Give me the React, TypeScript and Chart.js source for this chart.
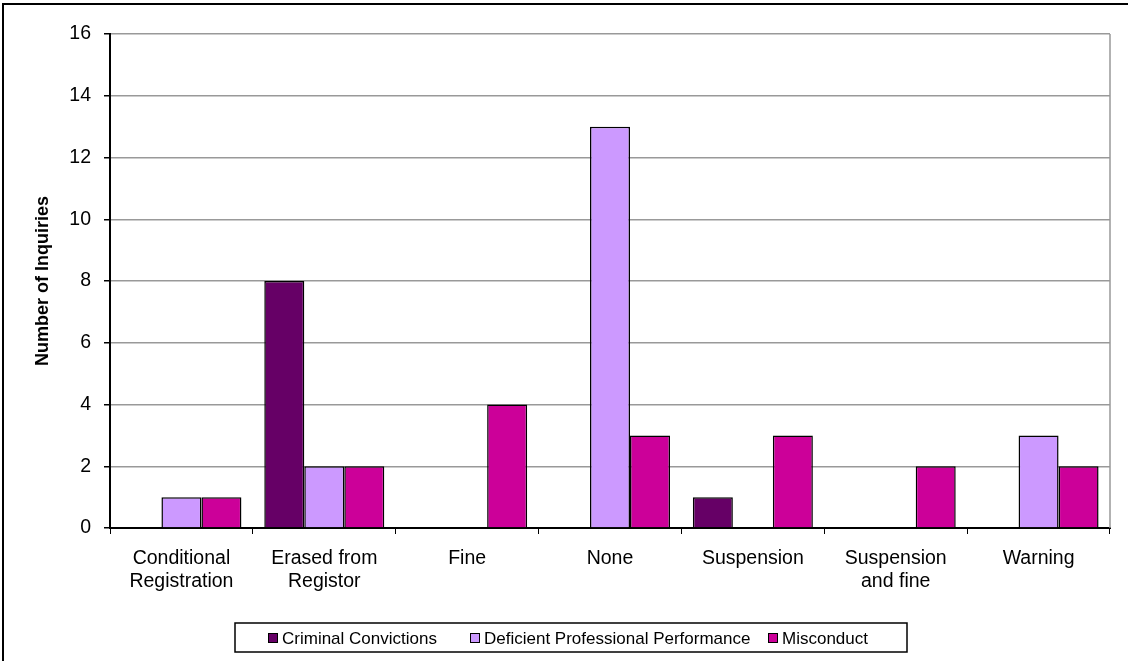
import React, { useEffect, useRef } from "react";
import { Chart, registerables } from "chart.js";

Chart.register(...registerables);

// Inquiry outcomes grouped by type of charge
const categories: (string | string[])[] = [
  ["Conditional", "Registration"],
  ["Erased from", "Registor"],
  "Fine",
  "None",
  "Suspension",
  ["Suspension", "and fine"],
  "Warning",
];

const criminalConvictions = [0, 8, 0, 0, 1, 0, 0];
const deficientPerformance = [1, 2, 0, 13, 0, 0, 3];
const misconduct = [1, 2, 4, 3, 3, 2, 2];

const seriesNames = [
  "Criminal Convictions",
  "Deficient Professional Performance",
  "Misconduct",
];
const seriesColors = ["#660066", "#CC99FF", "#CC0099"];

const yTitle = "Number of Inquiries";
const yMin = 0;
const yMax = 16;
const yStep = 2;

const FONT = "'Liberation Sans', Arial, sans-serif";

const W = 1128;
const H = 661;

// Frame lines along the top and left of the figure
const framePlugin = {
  id: "frame",
  beforeDraw(chart: any) {
    const ctx = chart.ctx;
    ctx.save();
    ctx.fillStyle = "#fff";
    ctx.fillRect(0, 0, chart.width, chart.height);
    ctx.fillStyle = "#000";
    ctx.fillRect(2, 3, chart.width - 2, 2);
    ctx.fillRect(2, 3, 2, chart.height - 3);
    ctx.restore();
  },
};

// Grey line closing the plot area on the right
const plotEdgePlugin = {
  id: "plotEdge",
  beforeDatasetsDraw(chart: any) {
    const { ctx, chartArea } = chart;
    ctx.save();
    ctx.strokeStyle = "#999999";
    ctx.lineWidth = 1.5;
    ctx.beginPath();
    ctx.moveTo(chartArea.right, chartArea.top);
    ctx.lineTo(chartArea.right, chartArea.bottom);
    ctx.stroke();
    ctx.restore();
  },
};

// Boxed legend under the axis labels
const boxLegendPlugin = {
  id: "boxLegend",
  afterDraw(chart: any) {
    const ctx = chart.ctx;
    const box = { x: 235, y: 623, w: 672, h: 29 };
    const swatchX = [268, 470, 768];
    ctx.save();
    ctx.strokeStyle = "#000";
    ctx.lineWidth = 1.5;
    ctx.strokeRect(box.x, box.y, box.w, box.h);
    ctx.font = `17px ${FONT}`;
    ctx.textBaseline = "alphabetic";
    ctx.textAlign = "left";
    chart.data.datasets.forEach((ds: any, i: number) => {
      const sx = swatchX[i];
      ctx.fillStyle = ds.backgroundColor;
      ctx.fillRect(sx, 633, 9, 9);
      ctx.lineWidth = 1;
      ctx.strokeStyle = "#000";
      ctx.strokeRect(sx + 0.5, 633.5, 9, 9);
      ctx.fillStyle = "#000";
      ctx.fillText(ds.label, sx + 14, 644);
    });
    ctx.restore();
  },
};

export default function App() {
  const canvasRef = useRef<HTMLCanvasElement | null>(null);

  useEffect(() => {
    if (!canvasRef.current) return;
    const seriesData = [criminalConvictions, deficientPerformance, misconduct];
    const chart = new Chart(canvasRef.current, {
      type: "bar",
      data: {
        labels: categories,
        datasets: seriesNames.map((name, i) => ({
          label: name,
          data: seriesData[i],
          backgroundColor: seriesColors[i],
          borderColor: "#000000",
          borderWidth: 1.5,
          categoryPercentage: 0.84,
          barPercentage: 1.0,
        })),
      },
      options: {
        responsive: false,
        animation: false,
        devicePixelRatio: 1,
        layout: { padding: { left: 0, right: 18, top: 34, bottom: 0 } },
        plugins: {
          legend: { display: false },
          title: { display: false },
          tooltip: { enabled: false },
        },
        scales: {
          x: {
            grid: {
              display: true,
              drawOnChartArea: false,
              drawTicks: true,
              tickLength: 6,
              tickColor: "#000",
              offset: true,
            },
            border: { display: true, color: "#000", width: 2 },
            ticks: {
              color: "#000",
              font: { family: FONT, size: 19.5, lineHeight: 1.18 },
              padding: 13,
              maxRotation: 0,
              minRotation: 0,
              autoSkip: false,
            },
            afterFit(scale: any) {
              scale.height = 133;
            },
          },
          y: {
            min: yMin,
            max: yMax,
            ticks: {
              stepSize: yStep,
              color: "#000",
              font: { family: FONT, size: 19.5 },
              padding: 13,
            },
            grid: {
              color: "#999999",
              lineWidth: 1.5,
              tickLength: 6,
              tickColor: "#000",
            },
            border: { display: true, color: "#000", width: 2 },
            title: {
              display: true,
              text: yTitle,
              color: "#000",
              font: { family: FONT, size: 18, weight: "bold" },
              padding: { top: 32, bottom: 0 },
            },
            afterFit(scale: any) {
              scale.width = 110;
            },
          },
        },
      },
      plugins: [framePlugin, plotEdgePlugin, boxLegendPlugin],
    });
    return () => chart.destroy();
  }, []);

  return (
    <div style={{ position: "fixed", left: 0, top: 0, width: W, height: H, background: "#fff" }}>
      <canvas ref={canvasRef} width={W} height={H} style={{ display: "block" }} />
    </div>
  );
}
